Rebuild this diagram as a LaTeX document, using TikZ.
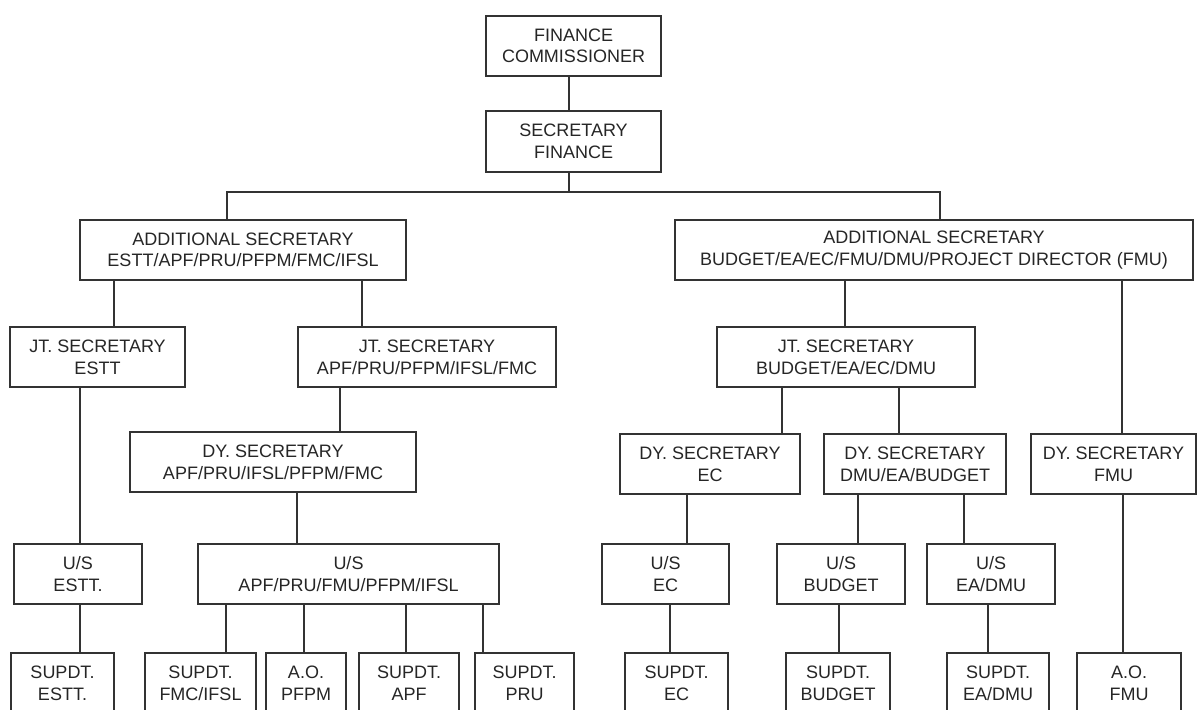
\documentclass[tikz,border=0pt]{standalone}
\usepackage{fontspec}
\setmainfont{Liberation Sans}
\tikzset{
  box/.style={draw=black!80, line width=1.2pt, fill=white, inner sep=0pt, align=center,
    font=\fontsize{18}{21.6}\selectfont, text=black!85},
  conn/.style={draw=black!80, line width=1.2pt}
}
\newcommand\bx[6]{\node[box,minimum width={#4-#2},minimum height={#5-#3}] (#1) at ({(#2+#4)/2},{(#3+#5)/2}) {#6};}
\begin{document}
\begin{tikzpicture}[x=1pt,y=-1pt]
\useasboundingbox (0,0) rectangle (1201,709);
\fill[white] (0,0) rectangle (1201,709);
\bx{fc}{486}{16}{661}{76}{FINANCE\\COMMISSIONER}
\bx{sf}{486}{111}{661}{172}{SECRETARY\\FINANCE}
\bx{asa}{80}{220}{406}{280}{ADDITIONAL SECRETARY\\ESTT/APF/PRU/PFPM/FMC/IFSL}
\bx{asb}{675}{220}{1193}{280}{ADDITIONAL SECRETARY\\BUDGET/EA/EC/FMU/DMU/PROJECT DIRECTOR (FMU)}
\bx{jsa}{10}{327}{185}{387}{JT. SECRETARY\\ESTT}
\bx{jsb}{298}{327}{556}{387}{JT. SECRETARY\\APF/PRU/PFPM/IFSL/FMC}
\bx{jsc}{717}{327}{975}{387}{JT. SECRETARY\\BUDGET/EA/EC/DMU}
\bx{dya}{130}{432}{416}{492}{DY. SECRETARY\\APF/PRU/IFSL/PFPM/FMC}
\bx{dyb}{620}{434}{800}{494}{DY. SECRETARY\\EC}
\bx{dyc}{824}{434}{1006}{494}{DY. SECRETARY\\DMU/EA/BUDGET}
\bx{dyd}{1031}{434}{1196}{494}{DY. SECRETARY\\FMU}
\bx{usa}{14}{544}{142}{604}{U/S\\ESTT.}
\bx{usb}{198}{544}{499}{604}{U/S\\APF/PRU/FMU/PFPM/IFSL}
\bx{usc}{602}{544}{729}{604}{U/S\\EC}
\bx{usd}{777}{544}{905}{604}{U/S\\BUDGET}
\bx{use}{927}{544}{1055}{604}{U/S\\EA/DMU}
\bx{spa}{11}{653}{114}{713}{SUPDT.\\ESTT.}
\bx{spb}{145}{653}{256}{713}{SUPDT.\\FMC/IFSL}
\bx{spc}{266}{653}{346}{713}{A.O.\\PFPM}
\bx{spd}{359}{653}{459}{713}{SUPDT.\\APF}
\bx{spe}{475}{653}{574}{713}{SUPDT.\\PRU}
\bx{spf}{625}{653}{728}{713}{SUPDT.\\EC}
\bx{spg}{786}{653}{890}{713}{SUPDT.\\BUDGET}
\bx{sph}{947}{653}{1049}{713}{SUPDT.\\EA/DMU}
\bx{spi}{1077}{653}{1181}{713}{A.O.\\FMU}
\coordinate (bus) at (569,192);
\draw[conn] (fc.south -| 569,0) -- (sf.north -| 569,0);
\draw[conn] (sf.south -| 569,0) -- (bus);
\draw[conn] (asa.north -| 227,0) |- (bus) -| (asb.north -| 940,0);
\draw[conn] (asa.south -| 114,0) -- (jsa.north -| 114,0);
\draw[conn] (asa.south -| 362,0) -- (jsb.north -| 362,0);
\draw[conn] (jsa.south -| 80,0) -- (usa.north -| 80,0);
\draw[conn] (jsb.south -| 340,0) -- (dya.north -| 340,0);
\draw[conn] (dya.south -| 297,0) -- (usb.north -| 297,0);
\draw[conn] (usa.south -| 80,0) -- (spa.north -| 80,0);
\draw[conn] (usb.south -| 226,0) -- (spb.north -| 226,0);
\draw[conn] (usb.south -| 304,0) -- (spc.north -| 304,0);
\draw[conn] (usb.south -| 406,0) -- (spd.north -| 406,0);
\draw[conn] (usb.south -| 483,0) -- (spe.north -| 483,0);
\draw[conn] (asb.south -| 845,0) -- (jsc.north -| 845,0);
\draw[conn] (asb.south -| 1122,0) -- (dyd.north -| 1122,0);
\draw[conn] (jsc.south -| 782,0) -- (dyb.north -| 782,0);
\draw[conn] (jsc.south -| 899,0) -- (dyc.north -| 899,0);
\draw[conn] (dyb.south -| 687,0) -- (usc.north -| 687,0);
\draw[conn] (dyc.south -| 858,0) -- (usd.north -| 858,0);
\draw[conn] (dyc.south -| 964,0) -- (use.north -| 964,0);
\draw[conn] (dyd.south -| 1123,0) -- (spi.north -| 1123,0);
\draw[conn] (usc.south -| 670,0) -- (spf.north -| 670,0);
\draw[conn] (usd.south -| 839,0) -- (spg.north -| 839,0);
\draw[conn] (use.south -| 988,0) -- (sph.north -| 988,0);
\end{tikzpicture}
\end{document}
